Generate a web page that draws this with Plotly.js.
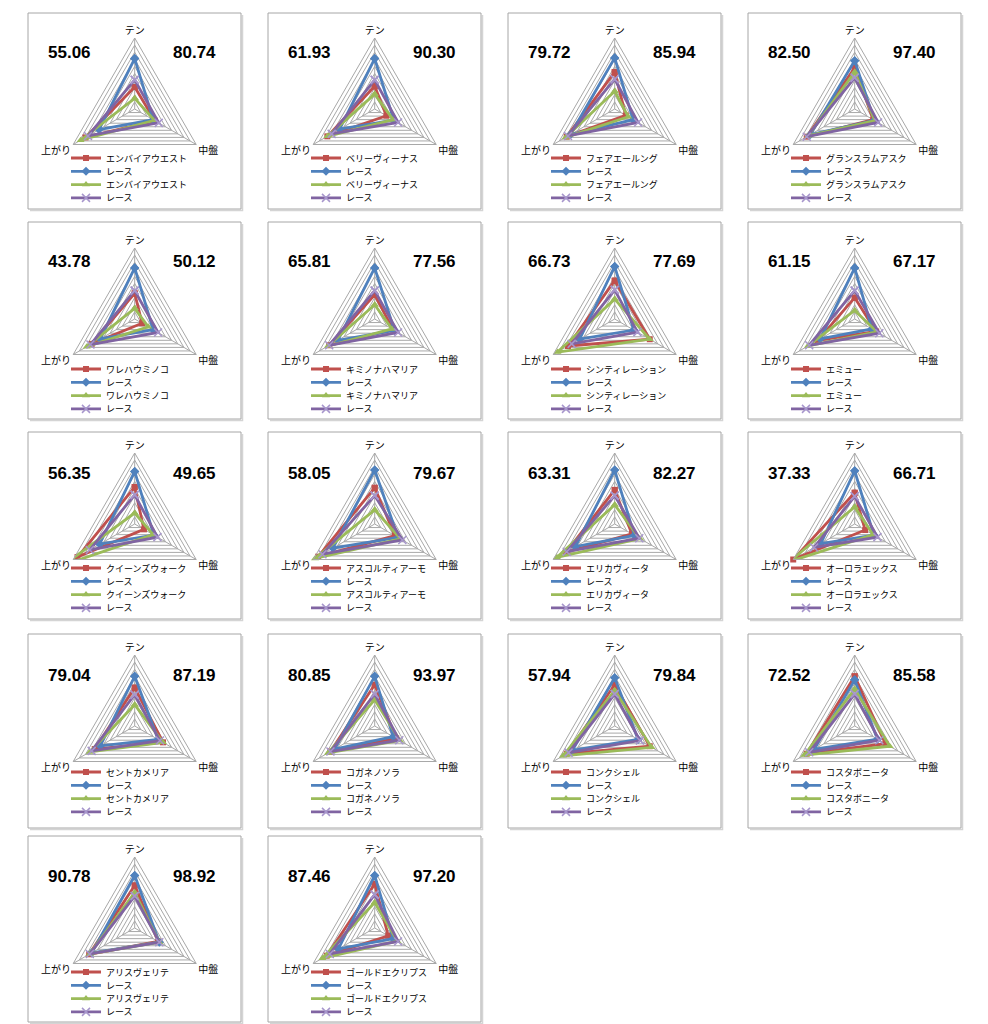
<!DOCTYPE html>
<html><head><meta charset="utf-8">
<script src="https://cdn.plot.ly/plotly-3.0.1.min.js"></script>
<style>html,body{margin:0;padding:0;background:#fff;overflow:hidden;}#chart{display:block;}</style>
</head><body>
<div id="chart" style="width:988px;height:1024px;"></div>
<script>
// ---------- data ----------
const axisLabels = ['テン', '中盤', '上がり'];
const horseNames = ['エンバイアウエスト','ベリーヴィーナス','フェアエールング','グランスラムアスク',
  'ワレハウミノコ','キミノナハマリア','シンティレーション','エミュー',
  'クイーンズウォーク','アスコルティアーモ','エリカヴィータ','オーロラエックス',
  'セントカメリア','コガネノソラ','コンクシェル','コスタボニータ',
  'アリスヴェリテ','ゴールドエクリプス'];
const raceLabel = 'レース';
const scoreLeft  = ['55.06','61.93','79.72','82.50','43.78','65.81','66.73','61.15','56.35','58.05','63.31','37.33','79.04','80.85','57.94','72.52','90.78','87.46'];
const scoreRight = ['80.74','90.30','85.94','97.40','50.12','77.56','77.69','67.17','49.65','79.67','82.27','66.71','87.19','93.97','79.84','85.58','98.92','97.20'];
// values per panel: [テン, 中盤, 上がり]
const horseA = [[0.31,0.33,0.80],[0.32,0.19,0.77],[0.52,0.18,0.78],[0.58,0.30,0.78],
  [0.36,0.12,0.70],[0.34,0.30,0.74],[0.54,0.57,0.76],[0.30,0.35,0.60],
  [0.52,0.15,0.93],[0.51,0.33,0.92],[0.48,0.28,0.79],[0.44,0.17,1.00],
  [0.54,0.46,0.65],[0.58,0.35,0.72],[0.58,0.57,0.78],[0.70,0.50,0.78],
  [0.60,0.38,0.74],[0.62,0.22,0.78]];
const raceA = [[0.71,0.30,0.58],[0.71,0.31,0.57],[0.72,0.30,0.72],[0.68,0.32,0.72],
  [0.72,0.30,0.56],[0.72,0.32,0.60],[0.74,0.31,0.57],[0.72,0.28,0.56],
  [0.74,0.31,0.57],[0.76,0.38,0.68],[0.76,0.32,0.64],[0.75,0.31,0.55],
  [0.70,0.38,0.56],[0.70,0.30,0.65],[0.68,0.38,0.69],[0.65,0.37,0.66],
  [0.74,0.40,0.70],[0.74,0.30,0.59]];
const horseB = [[0.15,0.32,0.88],[0.21,0.30,0.77],[0.25,0.22,0.80],[0.52,0.33,0.76],
  [0.15,0.22,0.78],[0.20,0.28,0.76],[0.28,0.57,0.93],[0.12,0.36,0.76],
  [0.155,0.30,1.15],[0.20,0.42,0.97],[0.27,0.41,0.94],[0.24,0.30,1.06],
  [0.30,0.46,0.73],[0.37,0.41,0.76],[0.50,0.60,0.84],[0.52,0.57,0.82],
  [0.50,0.40,0.73],[0.36,0.37,0.85]];
const raceB = [[0.41,0.39,0.76],[0.41,0.38,0.70],[0.42,0.38,0.76],[0.44,0.38,0.78],
  [0.40,0.38,0.72],[0.40,0.38,0.74],[0.41,0.37,0.70],[0.40,0.40,0.74],
  [0.41,0.37,0.73],[0.40,0.45,0.85],[0.40,0.40,0.78],[0.39,0.37,0.66],
  [0.44,0.41,0.70],[0.45,0.40,0.72],[0.45,0.41,0.75],[0.45,0.40,0.74],
  [0.45,0.40,0.73],[0.47,0.38,0.73]];

// ---------- layout geometry ----------
const W = 988, H = 1024, R = 71;
const colCX = [134.7, 374.7, 614.7, 854.7];
const rowCY = [109, 319, 524, 726, 928];
const legendFirstY = [158, 369, 568, 772, 972];
const scoreDY = [-57, -58, -51, -51, -52];
const boxTop = [13, 222, 432, 634, 836];
const boxBot = [209, 419, 619, 828, 1022];
const gridCol = '#a8a8a8';
const cjk = 'Noto Sans CJK JP, sans-serif';

const styles = [
  {data: horseA, horse: true,  color: '#C0504D', marker: {symbol: 'square', size: 6, color: '#C0504D'}},
  {data: raceA,  horse: false, color: '#4F81BD', marker: {symbol: 'diamond', size: 7, color: '#4F81BD'}},
  {data: horseB, horse: true,  color: '#9BBB59', marker: {symbol: 'triangle-up', size: 7, color: '#9BBB59'}},
  {data: raceB,  horse: false, color: '#8064A2', marker: {symbol: 'x-thin-open', size: 8, color: '#a796cc', line: {width: 1.5, color: '#a796cc'}}}
];

const traces = [];
const layout = {
  width: W, height: H, autosize: false,
  margin: {l: 0, r: 0, t: 0, b: 0, pad: 0, autoexpand: false},
  paper_bgcolor: '#fff', plot_bgcolor: '#fff',
  annotations: [], shapes: []
};

for (let i = 0; i < horseNames.length; i++) {
  const r = Math.floor(i / 4), c = i % 4;
  const cx = colCX[c], cy = rowCY[r];
  const pk = i ? 'polar' + (i + 1) : 'polar';
  const lk = i ? 'legend' + (i + 1) : 'legend';
  styles.forEach(s => {
    const v = s.data[i];
    traces.push({
      type: 'scatterpolar', mode: 'lines+markers', subplot: pk, legend: lk,
      name: s.horse ? horseNames[i] : raceLabel,
      r: v.concat([v[0]]), theta: axisLabels.concat([axisLabels[0]]),
      line: {color: s.color, width: 2.8},
      marker: s.marker, cliponaxis: false, hoverinfo: 'skip'
    });
  });
  layout[pk] = {
    domain: {x: [(cx - R) / W, (cx + R) / W], y: [1 - (cy + R) / H, 1 - (cy - R) / H]},
    gridshape: 'linear', bgcolor: 'rgba(0,0,0,0)',
    radialaxis: {range: [0, 1], tick0: 0, dtick: 0.1, showticklabels: false, ticks: '',
      showline: false, gridcolor: gridCol, gridwidth: 1},
    angularaxis: {type: 'category', categoryarray: axisLabels, direction: 'clockwise', rotation: 90,
      showline: true, linecolor: gridCol, linewidth: 1, gridcolor: gridCol, ticks: '',
      tickfont: {family: cjk, size: 10, color: '#000'}}
  };
  layout[lk] = {
    x: (28 + 240 * c + 38) / W, xanchor: 'left',
    y: 1 - (legendFirstY[r] - 14.5) / H, yanchor: 'top',
    bgcolor: 'rgba(0,0,0,0)', borderwidth: 0,
    font: {family: cjk, size: 9, color: '#000'}
  };
  [[scoreLeft[i], cx - 65], [scoreRight[i], cx + 60]].forEach(([txt, ax]) => {
    layout.annotations.push({
      xref: 'paper', yref: 'paper', x: ax / W, y: 1 - (cy + scoreDY[r]) / H,
      xanchor: 'center', yanchor: 'middle',
      text: '<b>' + txt + '</b>', showarrow: false,
      font: {family: 'Liberation Sans, Arial, sans-serif', size: 17, color: '#000'}
    });
  });
  const bx0 = 28 + 240 * c, bx1 = 241 + 240 * c;
  // light drop shadow on right and bottom edges
  layout.shapes.push({
    type: 'path', xref: 'paper', yref: 'paper', layer: 'below',
    path: 'M ' + ((bx1 + 1.5) / W) + ' ' + (1 - (boxTop[r] + 2) / H) + ' L ' + ((bx1 + 1.5) / W) + ' ' + (1 - (boxBot[r] + 1.5) / H) +
          ' L ' + ((bx0 + 2) / W) + ' ' + (1 - (boxBot[r] + 1.5) / H),
    line: {color: '#d4d4d4', width: 1.5}
  });
  layout.shapes.push({
    type: 'rect', xref: 'paper', yref: 'paper', layer: 'below',
    x0: bx0 / W, x1: bx1 / W,
    y0: 1 - boxBot[r] / H, y1: 1 - boxTop[r] / H,
    line: {color: '#a6a6a6', width: 1}, fillcolor: 'rgba(0,0,0,0)'
  });
}

Plotly.newPlot('chart', traces, layout, {staticPlot: true, displayModeBar: false}).then(gd => {
  const STEP = 13.3;
  gd.querySelectorAll('g.scrollbox').forEach(sb => {
    const items = sb.querySelectorAll('g.traces');
    if (!items.length) return;
    const m = /translate\(\s*([-\d.e]+)[ ,]+([-\d.e]+)\s*\)/.exec(items[0].getAttribute('transform') || '');
    if (!m) return;
    const x0 = parseFloat(m[1]), y0 = parseFloat(m[2]);
    items.forEach((it, k) => it.setAttribute('transform', 'translate(' + x0 + ',' + (y0 + k * STEP) + ')'));
  });
});
</script>
</body></html>
